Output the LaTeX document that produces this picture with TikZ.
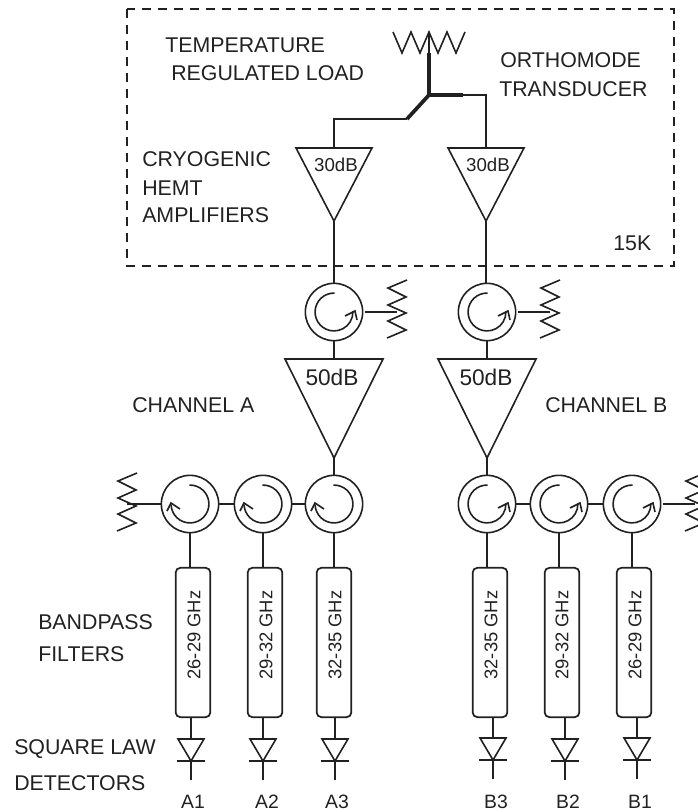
\documentclass[tikz,border=0pt]{standalone}
\usepackage{fontspec}
\setmainfont{Liberation Sans}
\usetikzlibrary{arrows.meta}
\definecolor{ink}{gray}{0.13}
\tikzset{
  lbl/.style={inner sep=0pt,anchor=west,text=ink,font=\fontsize{16}{19}\selectfont},
  pinlbl/.style={inner sep=0pt,anchor=center,text=ink,font=\fontsize{14.5}{17}\selectfont},
  gain/.style={inner sep=0pt,text=ink,font=\fontsize{14}{16}\selectfont},
  biggain/.style={inner sep=0pt,text=ink,font=\fontsize{17}{20}\selectfont},
  circu/.style={circle,draw=ink,line width=1.2pt,minimum size=43pt,inner sep=0pt},
  wire/.style={draw=ink,line width=1.2pt},
  thickwire/.style={draw=ink,line width=2.8pt},
  filt/.style={draw=ink,line width=1.3pt,rounded corners=3.5pt,minimum width=26pt,minimum height=112pt,inner sep=0pt},
  filttext/.style={inner sep=0pt,rotate=90,text=ink,font=\fontsize{13.8}{16}\selectfont},
  boxline/.style={draw=ink,line width=1.2pt,dash pattern=on 7pt off 5pt},
}
% amp: name, x, y top, half width, y tip
\newcommand{\AmpTri}[5]{%
  \coordinate (#1-top) at (#2,#3);
  \coordinate (#1-tip) at (#2,#5);
  \draw[wire,line join=miter] (#2-#4,#3) -- (#2+#4,#3) -- (#1-tip) -- cycle;
}
% diode: name, x, y top
\newcommand{\DiodeSym}[3]{%
  \coordinate (#1-top) at (#2,#3);
  \coordinate (#1-bar) at (#2,#3+22);
  \coordinate (#1-end) at (#2,#3+41);
  \draw[wire] (#2-13,#3) -- (#2+13,#3) -- (#1-bar) -- cycle;
  \draw[wire] (#2-14,#3+22) -- (#2+14,#3+22);
  \draw[wire] (#1-bar) -- (#1-end);
}
% circulator, counter-clockwise sense
\newcommand{\CircCCW}[3]{%
  \node[circu] (#1) at (#2,#3) {};
  \draw[wire] (#1.center) ++(88:14.2pt) arc[start angle=88,end angle=362,radius=14.2pt];
  \draw[wire] (#1.center) ++(11,4) -- ++(10,-5) -- ++(2,9);
}
% circulator, clockwise sense
\newcommand{\CircCW}[3]{%
  \node[circu] (#1) at (#2,#3) {};
  \draw[wire] (#1.center) ++(92:14.2pt) arc[start angle=92,end angle=-178,radius=14.2pt];
  \draw[wire] (#1.center) ++(-23,7) -- ++(4,-8) -- ++(9,6);
}
% vertical resistor: name, x, y centre
\newcommand{\ResV}[3]{%
  \coordinate (#1) at (#2,#3);
  \draw[wire] (#2+10,#3-29) -- (#2-9,#3-21) -- (#2+9,#3-12) -- (#2-9,#3-4) -- (#2+9,#3+4) -- (#2-9,#3+12) -- (#2+9,#3+21) -- (#2-10,#3+29);
}
\begin{document}
\begin{tikzpicture}[x=0.75pt,y=-0.75pt]
\useasboundingbox (0,0) rectangle (698,812);
\clip (0,0) rectangle (698,812);
% cryostat box
\draw[boxline] (127,9) rectangle (674,266);
% load
\coordinate (load) at (429,53);
\coordinate (junction) at (429,95);
\coordinate (thickR) at (463,95);
\coordinate (thickL) at (407,119);
\draw[wire,line join=miter] (393,32) -- (402,53) -- (411,32) -- (420,53) -- (429,32) -- (438,53) -- (447,32) -- (456,53) -- (465,32);
\draw[wire] (429,32) -- (load);
\draw[thickwire,line join=round] (load) -- (junction) -- (thickR);
\draw[thickwire] (junction) -- (thickL);
% cold amps
\AmpTri{ca}{334}{148}{38}{221}
\AmpTri{cb}{486}{148}{38}{221}
\draw[wire] (thickL) -| (ca-top);
\draw[wire] (thickR) -| (cb-top);
\node[gain] (gca) at (336,165) {30dB};
\node[gain] (gcb) at (488,165) {30dB};
% upper circulators
\CircCCW{ua}{334}{312}
\CircCCW{ub}{487}{312}
\draw[wire] (ca-tip) -- (ua.north);
\draw[wire] (cb-tip) -- (cb-tip |- ub.north);
\ResV{ra}{397}{309}
\ResV{rb}{550}{309}
\draw[wire] (ua.east) ++(2,0) -- (ra |- ua.east);
\draw[wire] (ub.east) ++(2,0) -- (rb |- ub.east);
% warm amps
\AmpTri{wa}{334}{359}{49}{458}
\AmpTri{wb}{487}{359}{49}{458}
\draw[wire] (ua.south) -- (wa-top);
\draw[wire] (ub.south) -- (wb-top);
\node[biggain] (gwa) at (332,377) {50dB};
\node[biggain] (gwb) at (486,377) {50dB};
% lower circulators
\CircCW{a1}{190}{504}
\CircCW{a2}{263}{504}
\CircCW{a3}{334}{504}
\CircCCW{b3}{487}{504}
\CircCCW{b2}{559}{504}
\CircCCW{b1}{632}{504}
\draw[wire] (wa-tip) -- (a3.north);
\draw[wire] (wb-tip) -- (b3.north);
\draw[wire] (a1.east) -- (a2.west);
\draw[wire] (a2.east) -- (a3.west);
\draw[wire] (b3.east) -- (b2.west);
\draw[wire] (b2.east) -- (b1.west);
\ResV{ra1}{127}{502}
\ResV{rb1}{695}{502}
\draw[wire] (ra1 |- a1.west) -- (a1.west);
\draw[wire] (b1.east) ++(2,0) -- (rb1 |- b1.east);
% filters
\node[filt] (fa1) at (193,642.5) {};
\node[filt] (fa2) at (265,642.5) {};
\node[filt] (fa3) at (334,642.5) {};
\node[filt] (fb3) at (490,642.5) {};
\node[filt] (fb2) at (562,642.5) {};
\node[filt] (fb1) at (634,642.5) {};
\node[filttext] (ta1) at (194,635) {26-29 GHz};
\node[filttext] (ta2) at (266,635) {29-32 GHz};
\node[filttext] (ta3) at (335,635) {32-35 GHz};
\node[filttext] (tb3) at (491,635) {32-35 GHz};
\node[filttext] (tb2) at (562,635) {29-32 GHz};
\node[filttext] (tb1) at (635,635) {26-29 GHz};
% diodes
\DiodeSym{da1}{191}{739}
\DiodeSym{da2}{263}{739}
\DiodeSym{da3}{335}{739}
\DiodeSym{db3}{493}{738}
\DiodeSym{db2}{565}{739}
\DiodeSym{db1}{637}{738}
\foreach \c/\f/\d in {a1/fa1/da1,a2/fa2/da2,a3/fa3/da3,b3/fb3/db3,b2/fb2/db2,b1/fb1/db1}{
  \draw[wire] (\c.south) -- (\c.south |- \f.north);
  \draw[wire] (\d-top |- \f.south) -- (\d-top);
}
% labels
\node[lbl] (t1) at (165,45) {TEMPERATURE};
\node[lbl] (t2) at (171,73) {REGULATED LOAD};
\node[lbl] (t3) at (500,60) {ORTHOMODE};
\node[lbl] (t4) at (499,89) {TRANSDUCER};
\node[lbl] (t5) at (142,159) {CRYOGENIC};
\node[lbl] (t6) at (142,188) {HEMT};
\node[lbl] (t7) at (142,215) {AMPLIFIERS};
\node[lbl] (t8) at (613,243) {15K};
\node[lbl] (t9) at (132,405) {CHANNEL A};
\node[lbl] (t10) at (545,405) {CHANNEL B};
\node[lbl] (t11) at (38,622) {BANDPASS};
\node[lbl] (t12) at (38,654) {FILTERS};
\node[lbl] (t13) at (14,749) {SQUARE LAW};
\node[lbl] (t14) at (14,783) {DETECTORS};
\node[pinlbl] (la1) at (193,802) {A1};
\node[pinlbl] (la2) at (267,802) {A2};
\node[pinlbl] (la3) at (337,802) {A3};
\node[pinlbl] (lb3) at (496,802) {B3};
\node[pinlbl] (lb2) at (568,802) {B2};
\node[pinlbl] (lb1) at (640,802) {B1};
\end{tikzpicture}
\end{document}
